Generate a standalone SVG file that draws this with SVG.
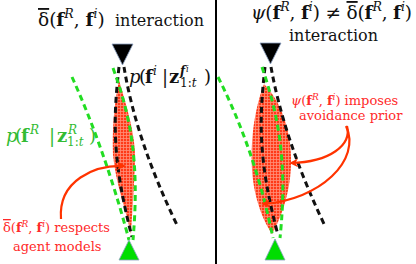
<svg xmlns="http://www.w3.org/2000/svg" width="416" height="264" viewBox="0 0 416 264">
<defs>
<pattern id="grid" width="3" height="3" patternUnits="userSpaceOnUse">
<rect width="3" height="3" fill="#ff3a18"/>
<path d="M0,0.5H3M0.5,0V3" stroke="#ff8f78" stroke-width="0.8"/>
</pattern>
<marker id="ah" viewBox="0 0 10 10" refX="8" refY="5" markerWidth="4" markerHeight="4" orient="auto">
<path d="M0,0 L10,5 L0,10 L3,5 Z" fill="#ff3300"/>
</marker>
</defs>
<style>
text{font-family:"DejaVu Serif",serif;}
.t{font-size:16px;fill:#111;}
.t2{font-size:18.5px;fill:#111;}
.t2 .sup{font-size:12.5px;baseline-shift:8px;}
.b{font-weight:bold;font-style:normal;}
.i{font-style:italic;}
.ov{text-decoration:overline;}
.sup{font-size:11px;baseline-shift:7px;font-style:italic;}
.lab .sup{font-size:12px;baseline-shift:8px;}
.ssup{font-size:8.5px;baseline-shift:11px;font-style:italic;}
.sub{font-size:12px;baseline-shift:-4px;font-style:normal;}
.red{fill:#ff2a2a;font-size:13px;}
.red .sup{font-size:9px;baseline-shift:5px;}
.grn{fill:#33bb33;font-size:18px;}
.blk{fill:#111;font-size:18px;}
.dash{fill:none;stroke-width:3;stroke-dasharray:6 4;}
.k{stroke:#111;}
.g{stroke:#22dd22;}
.arr{fill:none;stroke:#ff3300;stroke-width:2.2;marker-end:url(#ah);}
.spin{fill:url(#grid);}
.tri-k{fill:#000;stroke:#8aa0c0;stroke-width:0.8;}
.tri-g{fill:#00dd00;stroke:#8aa0c0;stroke-width:0.8;}
</style>
<rect width="416" height="264" fill="#fff"/>
<line x1="216" y1="0" x2="216" y2="264" stroke="#000" stroke-width="2"/>

<g id="left-distribution">
<path class="spin" d="M119,80 C126,105 136,135 135,160 C134,190 132,215 131,234 C126,210 116,185 113,155 C112,130 114,105 119,80 Z"/>
</g>
<g id="right-distribution">
<path class="spin" d="M264,84 C280,100 292,130 291,165 C290,195 280,220 272,234 C264,222 254,200 252,170 C250,135 256,105 264,84 Z"/>
</g>

<g id="connectors">
<path class="dash k" d="M119,67 C113,120 112,160 132,237"/>
<path class="dash k" d="M124,67 Q136,140 177,225"/>
<path class="dash g" d="M72,77 Q105,150 129,240"/>
<path class="dash g" d="M113,68 C130,115 140,160 133,240"/>
<path class="dash k" d="M265,67 C259,120 258,160 278,235"/>
<path class="dash k" d="M271,67 Q284,140 325,226"/>
<path class="dash g" d="M218,77 Q255,150 273,238"/>
<path class="dash g" d="M262,67 C278,115 288,160 280,238"/>
<path class="arr" d="M61,219 C58,180 95,165 124,166"/>
<path class="arr" d="M347,126 C352,145 330,162 291,163"/>
<path class="arr" d="M346,126 C362,160 320,200 263,204"/>
</g>

<g id="left-agent"><polygon class="tri-k" points="112,44 133,44 122.5,65"/></g>
<g id="left-robot"><polygon class="tri-g" points="119,260 139,260 129,240"/></g>
<g id="right-agent"><polygon class="tri-k" points="260,43 281,43 270.5,64"/></g>
<g id="right-robot"><polygon class="tri-g" points="265,260 285,260 275,239"/></g>

<g id="titles">
<text class="t2" x="38" y="26"><tspan class="ov">δ</tspan>(<tspan class="b">f</tspan><tspan class="sup">R</tspan>, <tspan class="b">f</tspan><tspan class="sup">i</tspan>)<tspan x="115" font-size="16">interaction</tspan></text>
<text class="t2" x="251" y="19" textLength="161" lengthAdjust="spacing"><tspan class="i">ψ</tspan>(<tspan class="b">f</tspan><tspan class="sup">R</tspan>, <tspan class="b">f</tspan><tspan class="sup">i</tspan>) ≠ <tspan class="ov">δ</tspan>(<tspan class="b">f</tspan><tspan class="sup">R</tspan>, <tspan class="b">f</tspan><tspan class="sup">i</tspan>)</text>
<text class="t" x="289" y="41">interaction</text>
</g>

<g id="labels">
<text class="blk lab" y="83"><tspan x="129" class="i">p</tspan><tspan x="139">(</tspan><tspan x="145" class="b">f</tspan><tspan x="153" class="sup">i</tspan><tspan x="162">|</tspan><tspan x="169" class="b">z</tspan><tspan x="180" class="sup b">f</tspan><tspan x="186" class="ssup">i</tspan><tspan x="180" class="sub">1:<tspan class="i">t</tspan></tspan><tspan x="204">)</tspan></text>
<text class="grn lab" y="142"><tspan x="6" class="i">p</tspan><tspan x="15">(</tspan><tspan x="21" class="b">f</tspan><tspan x="30" class="sup">R</tspan><tspan x="49">|</tspan><tspan x="57" class="b">z</tspan><tspan x="68" class="sup">R</tspan><tspan x="67" class="sub">1:<tspan class="i">t</tspan></tspan><tspan x="89">)</tspan></text>
<text class="red" x="3" y="232"><tspan class="ov">δ</tspan>(<tspan class="b">f</tspan><tspan class="sup">R</tspan>, <tspan class="b">f</tspan><tspan class="sup">i</tspan>) respects</text>
<text class="red" x="13" y="251">agent models</text>
<text class="red" x="291" y="105"><tspan class="i">ψ</tspan>(<tspan class="b">f</tspan><tspan class="sup">R</tspan>, <tspan class="b">f</tspan><tspan class="sup">i</tspan>) imposes</text>
<text class="red" x="299" y="120">avoidance prior</text>
</g>
</svg>
